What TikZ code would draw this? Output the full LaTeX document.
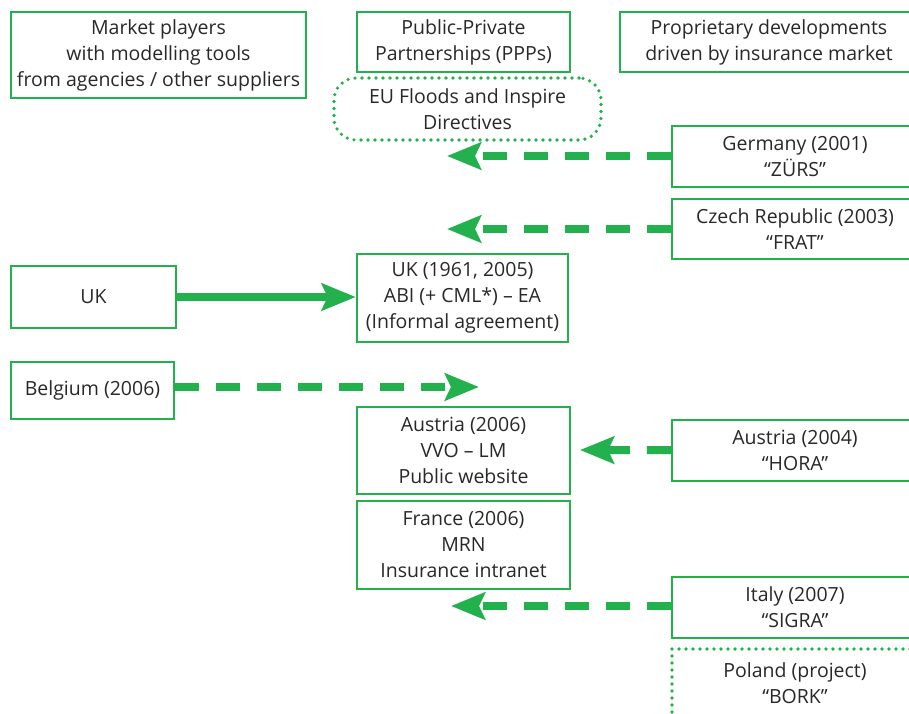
\documentclass[tikz,border=0pt]{standalone}
\usepackage{fontspec}
\setmainfont{Open Sans}
\usetikzlibrary{arrows.meta}
\definecolor{ppgreen}{RGB}{35,177,77}
\definecolor{pptext}{RGB}{40,40,40}

\begin{document}
\begin{tikzpicture}[x=1pt,y=-1pt,
    box/.style={draw=ppgreen,line width=2.5pt,text=pptext,align=center,inner sep=0pt,
      font=\fontsize{19.5}{26}\selectfont},
    dotbox/.style={box,line width=3.6pt,line cap=round,dash pattern=on 0pt off 7pt},
    flow/.style={ppgreen,line width=8pt,-{Stealth[length=34pt,width=27pt,inset=6pt]}},
    dashflow/.style={flow,dash pattern=on 24pt off 17pt}]
  \useasboundingbox (0,0) rectangle (909,713);
  \clip (0,0) rectangle (909,713);

  \begin{scope}
    \node[box,minimum width=295,minimum height=86] (market)   at (158.5,55)  {Market players\\with modelling tools\\from agencies / other suppliers};
    \node[box,minimum width=213,minimum height=60] (ppp)      at (463.5,42)  {Public-Private\\Partnerships (PPPs)};
    \node[box,minimum width=298,minimum height=60] (prop)     at (769,42)    {Proprietary developments\\driven by insurance market};
    \node[dotbox,rounded corners=22pt,minimum width=267,minimum height=62] (eu) at (467.5,109) {EU Floods and Inspire\\Directives};
  \end{scope}

  \begin{scope}
    \node[box,minimum width=246,minimum height=61] (germany)  at (795,156.5) {Germany (2001)\\“ZÜRS”};
    \node[box,minimum width=246,minimum height=60] (czech)    at (795,229)   {Czech Republic (2003)\\“FRAT”};
    \node[box,minimum width=246,minimum height=61] (austriab) at (795,450.5) {Austria (2004)\\“HORA”};
    \node[box,minimum width=246,minimum height=61] (italy)    at (795,607.5) {Italy (2007)\\“SIGRA”};
    \node[dotbox,minimum width=246,minimum height=68] (poland) at (795,683)  {Poland (project)\\“BORK”};
  \end{scope}

  \begin{scope}
    \node[box,minimum width=165,minimum height=62] (uk)       at (93.5,297)  {UK};
    \node[box,minimum width=163,minimum height=57] (belgium)  at (92.5,390.5) {Belgium (2006)};
    \node[box,minimum width=211,minimum height=88] (ukppp)    at (462.5,298) {UK (1961, 2005)\\ABI (+ CML*) – EA\\(Informal agreement)};
    \node[box,minimum width=213,minimum height=87] (austriaa) at (463.5,450.5) {Austria (2006)\\VVO – LM\\Public website};
    \node[box,minimum width=213,minimum height=88] (france)   at (463.5,545)  {France (2006)\\MRN\\Insurance intranet};
  \end{scope}

  \coordinate (germanytip)  at (447,156);
  \coordinate (czechtip)    at (447,229);
  \coordinate (belgiumtip)  at (479,387);
  \coordinate (austriatip)  at (580,450);
  \coordinate (italytip)    at (451,606);

  \draw[flow]     (uk.east |- 0,297) -- (ukppp.west |- 0,297);
  \draw[dashflow] (germany.west |- germanytip) -- (germanytip);
  \draw[dashflow] (czech)    -- (czechtip);
  \draw[dashflow] (belgium.east |- belgiumtip) -- (belgiumtip);
  \draw[dashflow] (austriab) -- (austriatip);
  \draw[dashflow] (italy.west |- italytip) -- (italytip);
\end{tikzpicture}
\end{document}
